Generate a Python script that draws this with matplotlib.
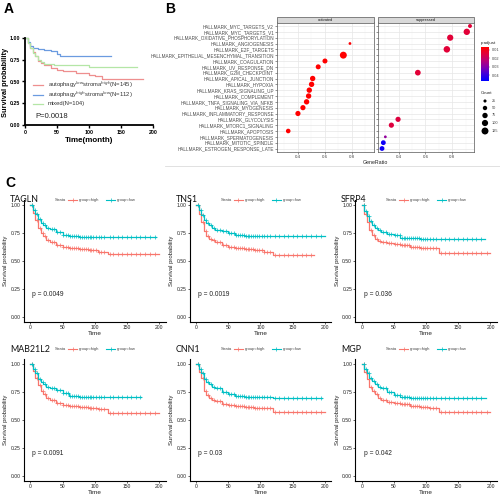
import matplotlib
matplotlib.use("Agg")
import matplotlib.pyplot as plt
import numpy as np
from matplotlib.colors import LinearSegmentedColormap, Normalize
from matplotlib.patches import Rectangle

plt.rcParams["font.family"] = ["Liberation Sans", "DejaVu Sans"]

W, H = 500, 496

# ---------------- panel A: survival by group ----------------
a_red_t = [0, 4, 8, 12, 16, 20, 25, 30, 40, 50, 60, 80, 100, 110, 120, 185]
a_red_s = [1.0, 0.94, 0.89, 0.84, 0.79, 0.74, 0.71, 0.69, 0.655, 0.635, 0.62, 0.60, 0.575, 0.565, 0.53, 0.53]
a_blue_t = [0, 4, 8, 12, 20, 30, 40, 50, 55, 135]
a_blue_s = [1.0, 0.95, 0.91, 0.89, 0.875, 0.86, 0.845, 0.82, 0.795, 0.79]
a_green_t = [0, 4, 8, 12, 16, 20, 25, 30, 45, 60, 100, 175]
a_green_s = [1.0, 0.94, 0.88, 0.83, 0.79, 0.75, 0.72, 0.705, 0.695, 0.685, 0.67, 0.67]
a_labels = ["autophagy$^{low}$stroma$^{high}$(N=145)",
            "autophagy$^{high}$stroma$^{low}$(N=112)",
            "mixed(N=104)"]
a_colors = ["#ee8f8f", "#6b9be0", "#b4e6a6"]

# ---------------- panel B: hallmark dot plot ----------------
terms = [
    "HALLMARK_MYC_TARGETS_V2", "HALLMARK_MYC_TARGETS_V1",
    "HALLMARK_OXIDATIVE_PHOSPHORYLATION", "HALLMARK_ANGIOGENESIS",
    "HALLMARK_E2F_TARGETS", "HALLMARK_EPITHELIAL_MESENCHYMAL_TRANSITION",
    "HALLMARK_COAGULATION", "HALLMARK_UV_RESPONSE_DN",
    "HALLMARK_G2M_CHECKPOINT", "HALLMARK_APICAL_JUNCTION",
    "HALLMARK_HYPOXIA", "HALLMARK_KRAS_SIGNALING_UP",
    "HALLMARK_COMPLEMENT", "HALLMARK_TNFA_SIGNALING_VIA_NFKB",
    "HALLMARK_MYOGENESIS", "HALLMARK_INFLAMMATORY_RESPONSE",
    "HALLMARK_GLYCOLYSIS", "HALLMARK_MTORC1_SIGNALING",
    "HALLMARK_APOPTOSIS", "HALLMARK_SPERMATOGENESIS",
    "HALLMARK_MITOTIC_SPINDLE", "HALLMARK_ESTROGEN_RESPONSE_LATE",
]
act_terms = ["HALLMARK_ANGIOGENESIS", "HALLMARK_EPITHELIAL_MESENCHYMAL_TRANSITION",
             "HALLMARK_COAGULATION", "HALLMARK_UV_RESPONSE_DN",
             "HALLMARK_APICAL_JUNCTION", "HALLMARK_HYPOXIA",
             "HALLMARK_KRAS_SIGNALING_UP", "HALLMARK_COMPLEMENT",
             "HALLMARK_TNFA_SIGNALING_VIA_NFKB", "HALLMARK_MYOGENESIS",
             "HALLMARK_INFLAMMATORY_RESPONSE", "HALLMARK_APOPTOSIS"]
act_ratio = [0.785, 0.736, 0.60, 0.55, 0.509, 0.501, 0.484, 0.479, 0.464, 0.437, 0.40, 0.328]
act_count = [20, 125, 65, 65, 75, 75, 75, 75, 75, 70, 70, 55]
act_padj = [0.007, 0.0065, 0.0065, 0.0065, 0.0065, 0.0065, 0.0065, 0.0065, 0.0065, 0.0065, 0.0065, 0.0065]

sup_terms = ["HALLMARK_MYC_TARGETS_V2", "HALLMARK_MYC_TARGETS_V1",
             "HALLMARK_OXIDATIVE_PHOSPHORYLATION", "HALLMARK_E2F_TARGETS",
             "HALLMARK_G2M_CHECKPOINT", "HALLMARK_GLYCOLYSIS",
             "HALLMARK_MTORC1_SIGNALING", "HALLMARK_SPERMATOGENESIS",
             "HALLMARK_MITOTIC_SPINDLE", "HALLMARK_ESTROGEN_RESPONSE_LATE"]
sup_ratio = [0.933, 0.909, 0.785, 0.76, 0.543, 0.395, 0.345, 0.30, 0.285, 0.275]
sup_count = [40, 105, 100, 110, 85, 70, 70, 20, 60, 60]
sup_padj = [0.014, 0.014, 0.014, 0.014, 0.014, 0.015, 0.015, 0.028, 0.045, 0.045]

count_breaks = [25, 50, 75, 100, 125]
padj_breaks = [0.01, 0.02, 0.03, 0.04]

# ---------------- panel C: KM curves per gene ----------------
genes = ["TAGLN", "TNS1", "SFRP4", "MAB21L2", "CNN1", "MGP"]
pvals = ["p = 0.0049", "p = 0.0019", "p = 0.036", "p = 0.0091", "p = 0.03", "p = 0.042"]
km_t = [0, 4, 8, 12, 16, 20, 25, 30, 40, 50, 60, 75, 90, 105, 120]

tagln_high = [1.0, 0.93, 0.87, 0.80, 0.75, 0.72, 0.69, 0.67, 0.645, 0.63, 0.62, 0.61, 0.595, 0.58, 0.56]
tagln_low = [1.0, 0.96, 0.92, 0.88, 0.84, 0.82, 0.80, 0.79, 0.76, 0.73, 0.72, 0.715, 0.715, 0.715, 0.712]
tns1_high = [1.0, 0.92, 0.85, 0.77, 0.72, 0.70, 0.685, 0.67, 0.645, 0.63, 0.615, 0.605, 0.595, 0.585, 0.55]
tns1_low = [1.0, 0.96, 0.91, 0.87, 0.84, 0.82, 0.80, 0.78, 0.765, 0.75, 0.73, 0.725, 0.72, 0.72, 0.72]
sfrp4_high = [1.0, 0.92, 0.85, 0.78, 0.73, 0.70, 0.68, 0.67, 0.66, 0.65, 0.64, 0.63, 0.62, 0.615, 0.575]
sfrp4_low = [1.0, 0.95, 0.90, 0.86, 0.82, 0.80, 0.78, 0.76, 0.745, 0.73, 0.71, 0.705, 0.70, 0.70, 0.70]
mab21l2_high = [1.0, 0.94, 0.88, 0.81, 0.76, 0.73, 0.70, 0.68, 0.65, 0.635, 0.625, 0.615, 0.605, 0.60, 0.565]
mab21l2_low = [1.0, 0.96, 0.92, 0.87, 0.84, 0.82, 0.80, 0.785, 0.765, 0.745, 0.715, 0.71, 0.71, 0.71, 0.71]
cnn1_high = [1.0, 0.93, 0.88, 0.76, 0.72, 0.70, 0.68, 0.67, 0.645, 0.635, 0.625, 0.615, 0.61, 0.605, 0.57]
cnn1_low = [1.0, 0.96, 0.92, 0.87, 0.84, 0.82, 0.80, 0.785, 0.755, 0.73, 0.715, 0.71, 0.71, 0.705, 0.70]
mgp_high = [1.0, 0.93, 0.87, 0.80, 0.76, 0.73, 0.70, 0.68, 0.66, 0.65, 0.64, 0.63, 0.62, 0.61, 0.575]
mgp_low = [1.0, 0.96, 0.92, 0.88, 0.85, 0.82, 0.80, 0.785, 0.75, 0.725, 0.705, 0.70, 0.70, 0.70, 0.70]

high_curves = [tagln_high, tns1_high, sfrp4_high, mab21l2_high, cnn1_high, mgp_high]
low_curves = [tagln_low, tns1_low, sfrp4_low, mab21l2_low, cnn1_low, mgp_low]
high_end = [200, 183, 200, 200, 200, 200]
low_end = [195, 200, 192, 172, 195, 193]
cens_t = [3, 7, 11, 15, 19, 23, 28, 33, 37, 42, 46, 51, 55, 59, 62, 65, 68, 71, 74, 77,
          80, 83, 86, 89, 92, 95, 98, 102, 106, 110, 115, 123, 129, 136, 143, 150,
          157, 164, 171, 178, 186, 194]

RED, TEAL = "#F8766D", "#00BFC4"

fig = plt.figure(figsize=(W / 100, H / 100), dpi=100)
over = fig.add_axes([0, 0, 1, 1], zorder=10)
over.set_xlim(0, W)
over.set_ylim(H, 0)
over.axis("off")


def px_axes(l, t, r, b):
    return fig.add_axes([l / W, 1 - b / H, (r - l) / W, (b - t) / H])


def txt(x, y, s, **kw):
    kw.setdefault("va", "center")
    over.text(x, y, s, **kw)


# panel labels
txt(4, 9, "A", fontsize=10, fontweight="bold")
txt(165, 9, "B", fontsize=10, fontweight="bold")
txt(5, 183, "C", fontsize=10, fontweight="bold")

# ---------------- draw A ----------------
ax = px_axes(25, 38, 153, 125)
for t, s, c in [(a_red_t, a_red_s, a_colors[0]), (a_blue_t, a_blue_s, a_colors[1]),
                (a_green_t, a_green_s, a_colors[2])]:
    ax.plot(t, s, drawstyle="steps-post", color=c, lw=0.9, clip_on=False)
ax.set_xlim(0, 200)
ax.set_ylim(0, 1)
ax.set_xticks([0, 50, 100, 150, 200])
ax.set_yticks([0, 0.25, 0.5, 0.75, 1.0])
ax.set_yticklabels(["0.00", "0.25", "0.50", "0.75", "1.00"])
for sp in ["top", "right"]:
    ax.spines[sp].set_visible(False)
for sp in ["left", "bottom"]:
    ax.spines[sp].set_linewidth(1.3)
ax.tick_params(labelsize=3.8, length=2, width=1, pad=1.5)
for lab in ax.get_xticklabels() + ax.get_yticklabels():
    lab.set_fontweight("bold")
txt(6, 82, "Survival probability", rotation=90, ha="center", fontsize=5.3, fontweight="bold")
txt(89, 140, "Time(month)", ha="center", fontsize=5.8, fontweight="bold")
for i, (lab, c) in enumerate(zip(a_labels, a_colors)):
    y = 85 + i * 9.5
    over.plot([33, 43], [y, y], color=c, lw=0.9)
    txt(48, y, lab, fontsize=4.2, color="#333333")
txt(35, 116, "P=0.0018", fontsize=5.5, color="#222222")

# ---------------- draw B ----------------
cmap = LinearSegmentedColormap.from_list(
    "padj", ["#FF0000", "#E0003C", "#B80078", "#8000B0", "#3D00DC", "#0000FF"])
norm = Normalize(0.0065, 0.047)


def dot_size(count):
    return np.asarray(count) * 0.2


panels = [(277, 374, "activated", act_terms, act_ratio, act_count, act_padj),
          (378, 474, "suppressed", sup_terms, sup_ratio, sup_count, sup_padj)]
for k, (l, r, name, tl, xr, cnt, pa) in enumerate(panels):
    bx = px_axes(l, 22.5, r, 152)
    rows = [terms.index(t) for t in tl]
    bx.set_axisbelow(True)
    bx.scatter(xr, rows, s=dot_size(cnt), c=pa, cmap=cmap, norm=norm, linewidths=0, zorder=3)
    bx.set_xlim(0.245, 0.963)
    bx.set_ylim(21.6, -0.6)
    bx.set_xticks([0.4, 0.6, 0.8])
    bx.set_xticklabels(["0.4", "0.6", "0.8"])
    bx.set_xticks([0.3, 0.5, 0.7, 0.9], minor=True)
    bx.set_yticks(range(len(terms)))
    bx.grid(which="major", color="#e6e6e6", lw=0.5)
    bx.grid(which="minor", axis="x", color="#f2f2f2", lw=0.3)
    bx.tick_params(which="minor", length=0)
    bx.tick_params(labelsize=3.2, length=1.2, width=0.4, pad=1, colors="#444444")
    if k == 0:
        bx.set_yticklabels(terms, fontsize=3.3, color="#4d4d4d")
    else:
        bx.set_yticklabels([])
    for sp in bx.spines.values():
        sp.set_color("#555555")
        sp.set_linewidth(0.5)
    over.add_patch(Rectangle((l, 16.8), r - l, 5.7, facecolor="#d9d9d9",
                             edgecolor="#555555", lw=0.5))
    txt((l + r) / 2, 19.7, name, ha="center", fontsize=2.8, color="#1a1a1a")
txt(375, 163, "GeneRatio", ha="center", fontsize=3.8, color="#222222")

# colorbar legend
cb = px_axes(481, 47, 489, 81)
cb.imshow(np.linspace(norm.vmin, norm.vmax, 100)[:, None], aspect="auto",
          cmap=cmap, norm=norm, extent=[0, 1, norm.vmax, norm.vmin])
cb.set_ylim(norm.vmax, norm.vmin)
cb.set_xticks([])
cb.yaxis.tick_right()
cb.set_yticks(padj_breaks)
cb.set_yticklabels([f"{v:.2f}" for v in padj_breaks])
cb.tick_params(labelsize=2.8, length=1, width=0.3, pad=1, colors="#444444")
for sp in cb.spines.values():
    sp.set_visible(False)
txt(481, 43, "p.adjust", fontsize=3.2, color="#222222")

txt(481, 93, "Count", fontsize=3.2, color="#222222")
cy = [101, 108, 115.5, 123, 131]
over.scatter([485] * len(count_breaks), cy, s=dot_size(count_breaks), color="black", linewidths=0)
for y, v in zip(cy, count_breaks):
    txt(492, y, str(v), fontsize=2.8, color="#444444")

# separator under B
over.plot([165, 500], [166, 166], color="#dcdcdc", lw=0.6)


# ---------------- draw C ----------------
def km_xy(vals, end):
    t = list(km_t) + [end]
    s = list(vals) + [vals[-1]]
    return t, s


def km_at(vals, ts):
    idx = np.searchsorted(km_t, ts, side="right") - 1
    return np.asarray(vals)[idx]


col_x0 = [30.3, 196.0, 361.7]
row_y = [(205.3, 316.7), (364.3, 475.7)]
for g in range(6):
    row, col = divmod(g, 3)
    x0 = col_x0[col]
    ppu = 0.644
    y1, y0 = row_y[row]
    h = y0 - y1
    kx = px_axes(x0 - 10 * ppu, y1 - 0.05 * h, x0 + 210 * ppu, y0 + 0.05 * h)
    for vals, end, c in [(high_curves[g], high_end[g], RED), (low_curves[g], low_end[g], TEAL)]:
        t, s = km_xy(vals, end)
        kx.plot(t, s, drawstyle="steps-post", color=c, lw=0.9)
        ct = [v for v in cens_t if v < end]
        kx.plot(ct, km_at(vals, ct), ls="none", marker="+", ms=2.2, mew=0.5, color=c)
    kx.set_xlim(-10, 210)
    kx.set_ylim(-0.05, 1.05)
    kx.set_xticks([0, 50, 100, 150, 200])
    kx.set_yticks([0, 0.25, 0.5, 0.75, 1.0])
    kx.set_yticklabels(["0.00", "0.25", "0.50", "0.75", "1.00"])
    for sp in ["top", "right"]:
        kx.spines[sp].set_visible(False)
    for sp in ["left", "bottom"]:
        kx.spines[sp].set_linewidth(0.8)
    kx.tick_params(labelsize=3.6, length=1.5, width=0.5, pad=0.8, colors="#222222")
    kx.text(3, 0.2, pvals[g], fontsize=4.8, va="center", color="#222222")

    ox = col * 165.5
    oy = 0 if row == 0 else 149
    oy_ax = y1 - row_y[0][0]
    txt(ox + 6, 261 + oy_ax, "Survival probability", rotation=90, ha="center",
        fontsize=4.3, color="#222222")
    txt(x0 + 100 * ppu, 333.5 + oy_ax, "Time", ha="center", fontsize=4.6, color="#222222")
    txt(ox + 10, 200 + oy, genes[g], fontsize=6.4, family=["Lato", "DejaVu Sans"],
        color="#111111")
    lx = ox + 55
    txt(lx, 200 + oy, "Strata", fontsize=3.0, color="#444444")
    over.plot([lx + 13, lx + 22], [200 + oy] * 2, color=RED, lw=0.8)
    over.plot([lx + 17.5], [200 + oy], marker="+", ms=2.2, mew=0.5, color=RED)
    txt(lx + 24, 200 + oy, "group=high", fontsize=3.0, color="#444444")
    over.plot([lx + 51, lx + 60], [200 + oy] * 2, color=TEAL, lw=0.8)
    over.plot([lx + 55.5], [200 + oy], marker="+", ms=2.2, mew=0.5, color=TEAL)
    txt(lx + 62, 200 + oy, "group=low", fontsize=3.0, color="#444444")

fig.savefig("out.png", dpi=100)
